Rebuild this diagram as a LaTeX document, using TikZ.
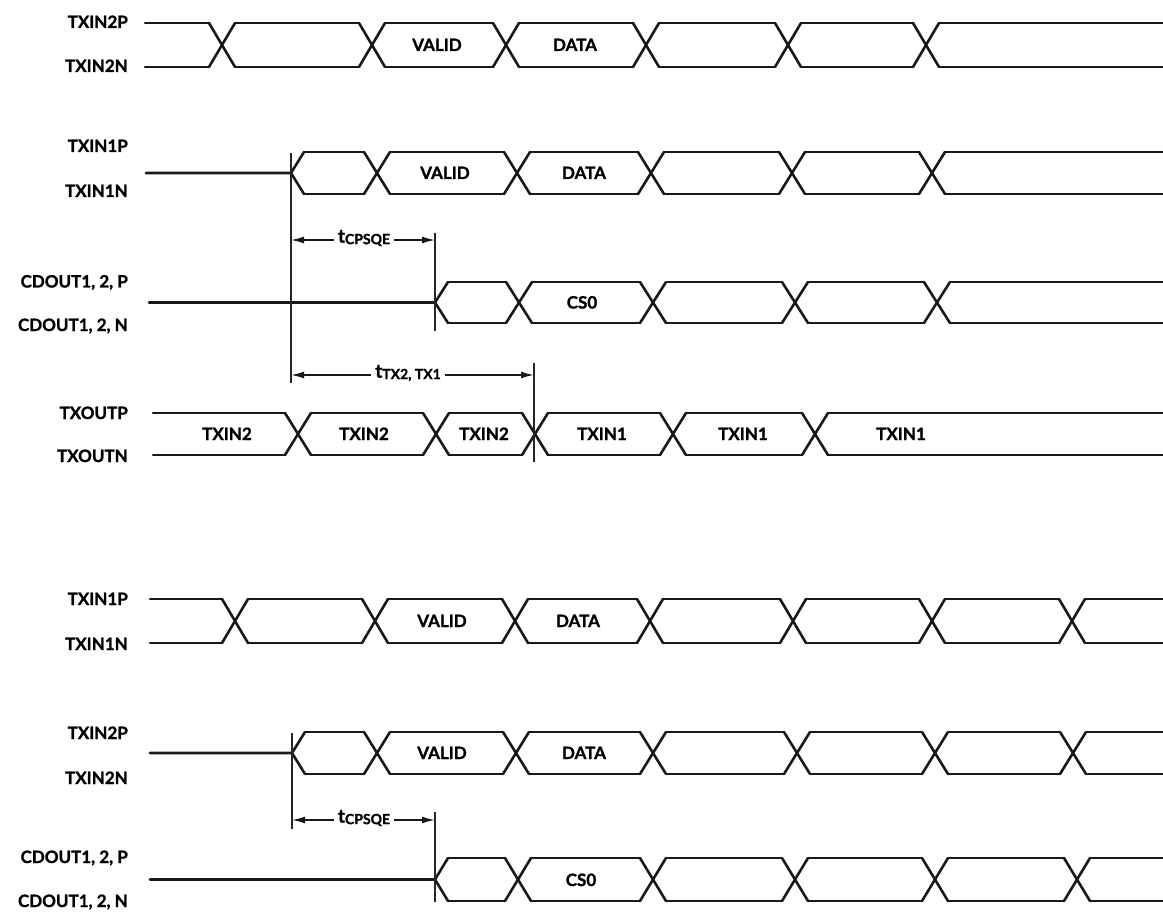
\documentclass[tikz,border=0pt]{standalone}
\usepackage{fontspec}
\setmainfont{Lato}[BoldFeatures={FakeBold=1.3}]
\usetikzlibrary{arrows.meta}
\newcommand\busrow[4]{%
  \foreach \cx [remember=\cx as \px (initially #3)] in {#4,1176} {
    \draw[sig] ({\px+13},#1) -- ({\cx-13},#1);
    \draw[sig] ({\px+13},#2) -- ({\cx-13},#2);
  }
  \foreach \cx in {#4} {
    \draw[sig] ({\cx-13},#1) -- ({\cx+13},#2);
    \draw[sig] ({\cx-13},#2) -- ({\cx+13},#1);
  }
}
\newcommand\openrow[5]{%
  \draw[sig] (#1,{(#3+#4)/2}) -- (#2,{(#3+#4)/2}) -- ({#2+13},#3);
  \draw[sig] (#2,{(#3+#4)/2}) -- ({#2+13},#4);
  \busrow{#3}{#4}{#2}{#5}
}
\tikzset{
  sig/.style={line width=2.6pt, line cap=round, line join=round, black!90},
  markline/.style={line width=1.2pt, black!85},
  dimarrow/.style={line width=1.6pt, -{Latex[length=13pt,width=7pt]}, black!90},
  sname/.style={anchor=base east, inner sep=0pt, font=\fontsize{17}{17}\selectfont\bfseries},
  blab/.style={anchor=base, inner sep=0pt, font=\fontsize{17}{17}\selectfont\bfseries},
  tlab/.style={inner sep=4pt, font=\fontsize{19}{19}\selectfont},
}
\newcommand\sub[1]{\raisebox{-1.5pt}{\fontsize{14}{14}\selectfont\bfseries #1}}
\begin{document}
\begin{tikzpicture}[x=1pt,y=-1pt]
\useasboundingbox (0,0) rectangle (1163,912);

% ---------- signal names ----------
\node[sname] (n1) at (128,28) {TXIN2P};
\node[sname] (n2) at (128,72) {TXIN2N};
\node[sname] (n3) at (128,152) {TXIN1P};
\node[sname] (n4) at (128,197) {TXIN1N};
\node[sname] (n5) at (128,287.5) {CDOUT1, 2, P};
\node[sname] (n6) at (128,331) {CDOUT1, 2, N};
\node[sname] (n7) at (128,419) {TXOUTP};
\node[sname] (n8) at (128,462) {TXOUTN};
\node[sname] (n9) at (128,605) {TXIN1P};
\node[sname] (n10) at (128,650) {TXIN1N};
\node[sname] (n11) at (128,739) {TXIN2P};
\node[sname] (n12) at (128,784) {TXIN2N};
\node[sname] (n13) at (128,863) {CDOUT1, 2, P};
\node[sname] (n14) at (128,907) {CDOUT1, 2, N};

% ---------- waveforms ----------
\busrow{23}{67}{132}{222,372,506,646,788,926}
\openrow{146}{291}{152}{194}{377,517,651,792,932}
\openrow{149}{435}{282}{323}{519,653,795,937}
\busrow{413}{455}{140}{298,436,535,673,815}
\busrow{599}{643}{137}{235,375,515,650,793,932,1072}
\openrow{150}{292}{732}{774}{377,516,653,797,935,1073}
\openrow{150}{435}{858}{901}{518,653,795,935,1077}

% ---------- data labels ----------
\node[blab] (a1) at (437,51) {VALID};
\node[blab] (a2) at (575,51) {DATA};
\node[blab] (b1) at (445,179) {VALID};
\node[blab] (b2) at (584,179) {DATA};
\node[blab] (c1) at (582,308.5) {CS0};
\node[blab] (d1) at (227,440) {TXIN2};
\node[blab] (d2) at (364,440) {TXIN2};
\node[blab] (d3) at (484,440) {TXIN2};
\node[blab] (d4) at (602,440) {TXIN1};
\node[blab] (d5) at (743,440) {TXIN1};
\node[blab] (d6) at (901,440) {TXIN1};
\node[blab] (e1) at (442,627) {VALID};
\node[blab] (e2) at (578,627) {DATA};
\node[blab] (f1) at (442,759) {VALID};
\node[blab] (f2) at (584,759) {DATA};
\node[blab] (g1) at (581,886) {CS0};

% ---------- timing markers (top) ----------
\coordinate (v1t) at (291,153);
\coordinate (v1b) at (291,383);
\coordinate (v2t) at (435,233);
\coordinate (v2b) at (435,331);
\coordinate (v3t) at (534,363);
\coordinate (v3b) at (534,462);
\draw[markline] (v1t) -- (v1b);
\draw[markline] (v2t) -- (v2b);
\draw[markline] (v3t) -- (v3b);
\coordinate (p1l) at (291,240);
\coordinate (p1r) at (435,240);
\node[tlab] (t1) at (364,238) {{\bfseries t}\sub{CPSQE}};
\draw[dimarrow] (t1.west |- p1l) -- (p1l);
\draw[dimarrow] (t1.east |- p1r) -- (p1r);
\coordinate (p2l) at (291,375);
\coordinate (p2r) at (534,375);
\node[tlab] (t2) at (408,373) {{\bfseries t}\sub{TX2, TX1}};
\draw[dimarrow] (t2.west |- p2l) -- (p2l);
\draw[dimarrow] (t2.east |- p2r) -- (p2r);

% ---------- timing markers (bottom) ----------
\coordinate (v4t) at (292,733);
\coordinate (v4b) at (292,829);
\coordinate (v5t) at (435,812);
\coordinate (v5b) at (435,902);
\draw[markline] (v4t) -- (v4b);
\draw[markline] (v5t) -- (v5b);
\coordinate (p3l) at (292,820);
\coordinate (p3r) at (435,820);
\node[tlab] (t3) at (364,818) {{\bfseries t}\sub{CPSQE}};
\draw[dimarrow] (t3.west |- p3l) -- (p3l);
\draw[dimarrow] (t3.east |- p3r) -- (p3r);
\end{tikzpicture}
\end{document}
